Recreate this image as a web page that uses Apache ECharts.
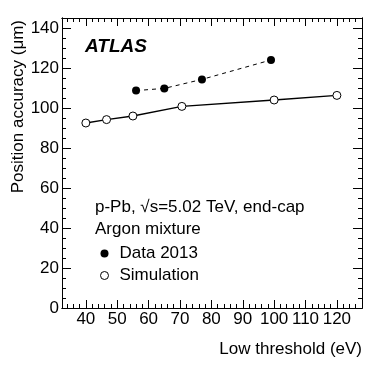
<!DOCTYPE html>
<html>
<head>
<meta charset="utf-8">
<script src="https://cdn.jsdelivr.net/npm/echarts@6/dist/echarts.min.js"></script>
<style>
html,body{margin:0;padding:0;background:#fff;}
#main{width:382px;height:367px;}
</style>
</head>
<body>
<div id="main"></div>
<script>
// values
var simX = [40, 46.6, 55, 70.6, 100, 120];
var simY = [92.5, 94.2, 96, 100.8, 104, 106.3];
var dataX = [56, 65, 77, 99];
var dataY = [108.7, 109.8, 114.3, 124];
var xMajor = [40, 50, 60, 70, 80, 90, 100, 110, 120];
var yMajor = [0, 20, 40, 60, 80, 100, 120, 140];

var xMinor = [];
for (var v = 34; v <= 128; v += 2) { if (v % 10 !== 0) xMinor.push(v); }
var yMinor = [];
for (var w = 5; w <= 145; w += 5) { if (w % 20 !== 0) yMinor.push(w); }

var font = 'Liberation Sans';
var XMIN = 32.4, XMAX = 128, YMIN = 0, YMAX = 145;

function xAx(pos, ticks, len, labels) {
    return {
        type: 'value', position: pos, min: XMIN, max: XMAX,
        axisLine: {show: true, onZero: false, lineStyle: {color: '#000', width: 1}},
        axisTick: {show: true, inside: true, length: len, customValues: ticks, lineStyle: {color: '#000'}},
        axisLabel: labels ? {show: true, customValues: ticks, color: '#000', fontFamily: font, fontSize: 17, margin: 3} : {show: false},
        splitLine: {show: false}
    };
}
function yAx(pos, ticks, len, labels) {
    return {
        type: 'value', position: pos, min: YMIN, max: YMAX,
        axisLine: {show: true, onZero: false, lineStyle: {color: '#000', width: 1}},
        axisTick: {show: true, inside: true, length: len, customValues: ticks, lineStyle: {color: '#000'}},
        axisLabel: labels ? {show: true, customValues: ticks, color: '#000', fontFamily: font, fontSize: 17, margin: 3} : {show: false},
        splitLine: {show: false}
    };
}

var xs = [xAx('bottom', xMajor, 8, true), xAx('bottom', xMinor, 4, false),
          xAx('top', xMajor, 8, false), xAx('top', xMinor, 4, false)];
var ys = [yAx('left', yMajor, 9, true), yAx('left', yMinor, 4, false),
          yAx('right', yMajor, 9, false), yAx('right', yMinor, 4, false)];

function pairs(a, b) {
    var out = [];
    for (var i = 0; i < a.length; i++) out.push([a[i], b[i]]);
    return out;
}

var chart = echarts.init(document.getElementById('main'));
chart.setOption({
    animation: false,
    grid: {left: 62, right: 20, top: 18, bottom: 59},
    xAxis: xs,
    yAxis: ys,
    legend: {
        orient: 'vertical', left: 95, top: 240, itemGap: 5,
        itemWidth: 8, itemHeight: 8,
        textStyle: {fontFamily: font, fontSize: 17, color: '#000', padding: [0, 0, 0, 6]},
        data: [
            {name: 'Data 2013', icon: 'circle', itemStyle: {color: '#000', borderWidth: 0}},
            {name: 'Simulation', icon: 'circle', itemStyle: {color: '#fff', borderColor: '#000', borderWidth: 1}}
        ]
    },
    graphic: [
        {type: 'text', left: 85, top: 37, style: {text: 'ATLAS', font: 'italic bold 19px "Liberation Sans"', fill: '#000'}},
        {type: 'text', left: 95, top: 199, style: {text: 'p-Pb, \u221As=5.02 TeV, end-cap', font: '17px "Liberation Sans"', fill: '#000'}},
        {type: 'text', left: 95, top: 221, style: {text: 'Argon mixture', font: '17px "Liberation Sans"', fill: '#000'}},
        {type: 'text', left: 10, top: 20, rotation: Math.PI / 2, originX: 0, originY: 0,
         style: {text: 'Position accuracy (\u03BCm)', font: '17px "Liberation Sans"', fill: '#000', align: 'right', verticalAlign: 'top'}},
        {type: 'text', right: 20, top: 341, style: {text: 'Low threshold (eV)', font: '17px "Liberation Sans"', fill: '#000'}}
    ],
    series: [
        {
            name: 'Simulation', type: 'line', data: pairs(simX, simY),
            symbol: 'circle', symbolSize: 8,
            lineStyle: {color: '#000', width: 1.3},
            itemStyle: {color: '#fff', borderColor: '#000', borderWidth: 1}
        },
        {
            name: 'Data 2013', type: 'line', data: pairs(dataX, dataY),
            symbol: 'circle', symbolSize: 8,
            lineStyle: {color: '#000', width: 1, type: [4, 4]},
            itemStyle: {color: '#000', borderWidth: 0}
        }
    ]
});
</script>
</body>
</html>
